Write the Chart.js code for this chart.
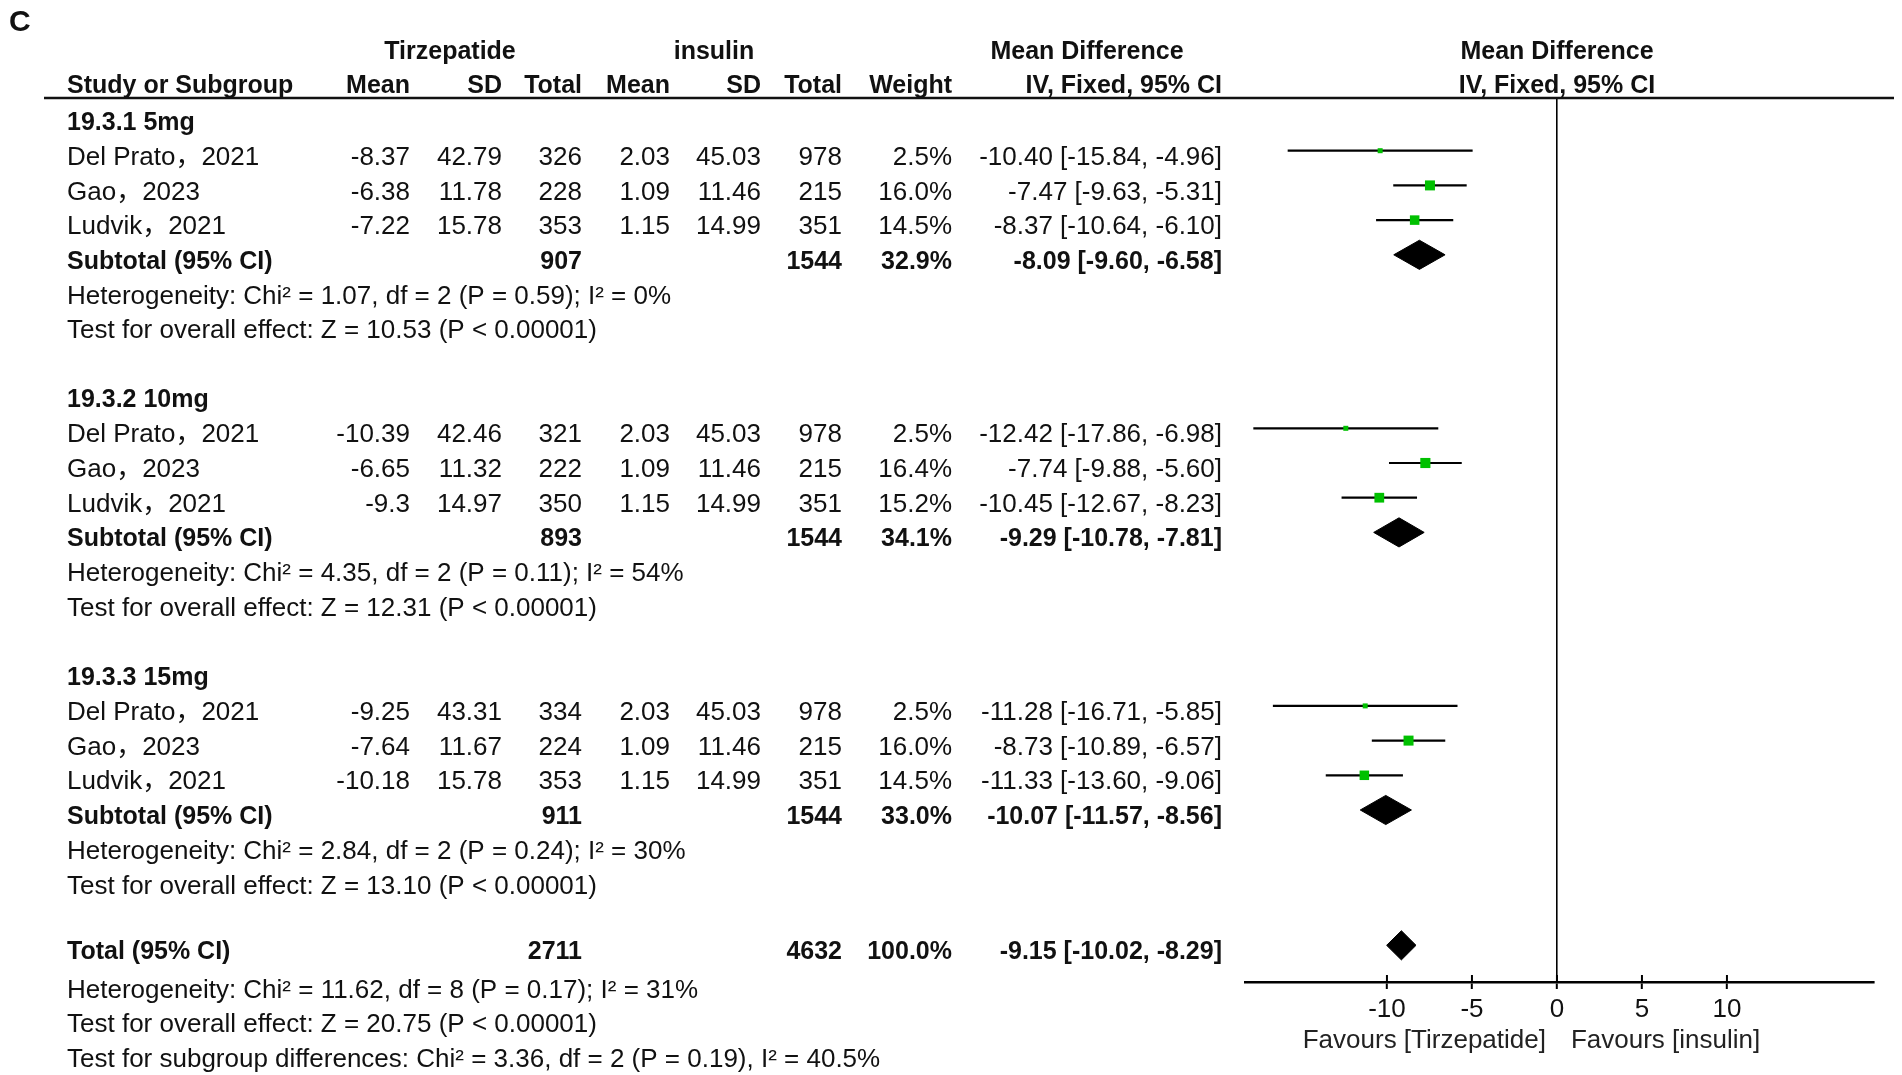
<!DOCTYPE html>
<html lang="en">
<head>
    <meta charset="UTF-8">
    <title>Tirzepatide vs insulin - forest plot</title>
    <script src="https://cdn.jsdelivr.net/npm/chart.js"></script>
    <style>
        body {
            margin: 0;
            padding: 0;
            background-color: #fff;
        }
        canvas {
            display: block;
        }
    </style>
</head>
<body>
    <canvas id="forest" width="1902" height="1075"></canvas>

    <script>
        // Study data (per dose group: 5mg, 10mg, 15mg)
        const groupLabels = ['19.3.1 5mg', '19.3.2 10mg', '19.3.3 15mg'];
        const studies = ['Del Prato，2021', 'Gao，2023', 'Ludvik，2021'];

        const tirzMean = [[-8.37, -6.38, -7.22], [-10.39, -6.65, -9.3], [-9.25, -7.64, -10.18]];
        const tirzSD = [[42.79, 11.78, 15.78], [42.46, 11.32, 14.97], [43.31, 11.67, 15.78]];
        const tirzN = [[326, 228, 353], [321, 222, 350], [334, 224, 353]];
        const insMean = [[2.03, 1.09, 1.15], [2.03, 1.09, 1.15], [2.03, 1.09, 1.15]];
        const insSD = [[45.03, 11.46, 14.99], [45.03, 11.46, 14.99], [45.03, 11.46, 14.99]];
        const insN = [[978, 215, 351], [978, 215, 351], [978, 215, 351]];
        const weights = [[2.5, 16.0, 14.5], [2.5, 16.4, 15.2], [2.5, 16.0, 14.5]];
        const md = [[-10.40, -7.47, -8.37], [-12.42, -7.74, -10.45], [-11.28, -8.73, -11.33]];
        const ciLow = [[-15.84, -9.63, -10.64], [-17.86, -9.88, -12.67], [-16.71, -10.89, -13.60]];
        const ciHigh = [[-4.96, -5.31, -6.10], [-6.98, -5.60, -8.23], [-5.85, -6.57, -9.06]];

        // Subtotals
        const subTirzN = [907, 893, 911];
        const subInsN = [1544, 1544, 1544];
        const subWeight = [32.9, 34.1, 33.0];
        const subMd = [-8.09, -9.29, -10.07];
        const subLow = [-9.60, -10.78, -11.57];
        const subHigh = [-6.58, -7.81, -8.56];
        const hetText = [
            'Heterogeneity: Chi² = 1.07, df = 2 (P = 0.59); I² = 0%',
            'Heterogeneity: Chi² = 4.35, df = 2 (P = 0.11); I² = 54%',
            'Heterogeneity: Chi² = 2.84, df = 2 (P = 0.24); I² = 30%'
        ];
        const effectText = [
            'Test for overall effect: Z = 10.53 (P < 0.00001)',
            'Test for overall effect: Z = 12.31 (P < 0.00001)',
            'Test for overall effect: Z = 13.10 (P < 0.00001)'
        ];

        // Overall
        const totalTirzN = 2711;
        const totalInsN = 4632;
        const totalWeight = 100.0;
        const totalMd = -9.15;
        const totalLow = -10.02;
        const totalHigh = -8.29;
        const totalText = [
            'Heterogeneity: Chi² = 11.62, df = 8 (P = 0.17); I² = 31%',
            'Test for overall effect: Z = 20.75 (P < 0.00001)',
            'Test for subgroup differences: Chi² = 3.36, df = 2 (P = 0.19), I² = 40.5%'
        ];

        const xTicks = [-10, -5, 0, 5, 10];

        // Row layout
        const GROUP_ROWS = 8;
        const TOTAL_ROW = 23.9;
        const DIAMOND_H = 0.42;
        const FONT = "'Liberation Sans', Arial, 'Noto Sans CJK SC', sans-serif";

        const studyRow = (g, i) => g * GROUP_ROWS + 1 + i;
        const subRow = g => g * GROUP_ROWS + 4;

        // datasets: squares, CI lines, diamonds
        const squarePoints = [];
        const squareSizes = [];
        const datasets = [];
        groupLabels.forEach((label, g) => {
            studies.forEach((s, i) => {
                squarePoints.push({ x: md[g][i], y: studyRow(g, i) });
                squareSizes.push(weights[g][i]);
                datasets.push({
                    type: 'line',
                    data: [{ x: ciLow[g][i], y: studyRow(g, i) }, { x: ciHigh[g][i], y: studyRow(g, i) }],
                    borderColor: '#000',
                    borderWidth: 2.2,
                    pointRadius: 0,
                    fill: false,
                    order: 2
                });
            });
        });

        function diamond(lo, est, hi, row) {
            return {
                type: 'line',
                data: [
                    { x: lo, y: row },
                    { x: est, y: row - DIAMOND_H },
                    { x: hi, y: row },
                    { x: est, y: row + DIAMOND_H },
                    { x: lo, y: row }
                ],
                borderColor: '#000',
                borderWidth: 1,
                backgroundColor: '#000',
                pointRadius: 0,
                fill: 'shape',
                tension: 0,
                order: 1
            };
        }
        groupLabels.forEach((label, g) => {
            datasets.push(diamond(subLow[g], subMd[g], subHigh[g], subRow(g)));
        });
        datasets.push(diamond(totalLow, totalMd, totalHigh, TOTAL_ROW));

        datasets.unshift({
            type: 'scatter',
            data: squarePoints,
            pointStyle: 'rect',
            backgroundColor: '#00c000',
            borderWidth: 0,
            pointRadius: ctx => Math.max(5, 2.5 * Math.sqrt(squareSizes[ctx.dataIndex])) / Math.SQRT2,
            order: 0
        });

        // table text, header line and favours labels
        const tablePlugin = {
            id: 'forestTable',
            afterDraw(chart) {
                const ctx = chart.ctx;
                const yScale = chart.scales.y;
                const xScale = chart.scales.x;
                const rowY = r => yScale.getPixelForValue(r) + 7;

                function txt(str, x, y, align, bold, size) {
                    ctx.font = (bold ? 'bold ' : '') + (size || (bold ? 25 : 26)) + 'px ' + FONT;
                    ctx.textAlign = align;
                    ctx.textBaseline = 'middle';
                    ctx.fillStyle = '#111';
                    ctx.fillText(str, x, y);
                }
                const cols = { name: 67, tMean: 410, tSD: 502, tN: 582, iMean: 670, iSD: 761, iN: 842, w: 952, ci: 1222 };
                const ciStr = (e, lo, hi) => e.toFixed(2) + ' [' + lo.toFixed(2) + ', ' + hi.toFixed(2) + ']';

                ctx.save();
                txt('C', 9, 23, 'left', true, 30);

                // headers
                txt('Tirzepatide', 450, 52, 'center', true);
                txt('insulin', 714, 52, 'center', true);
                txt('Mean Difference', 1087, 52, 'center', true);
                txt('Mean Difference', 1557, 52, 'center', true);
                txt('Study or Subgroup', cols.name, 86, 'left', true);
                txt('Mean', cols.tMean, 86, 'right', true);
                txt('SD', cols.tSD, 86, 'right', true);
                txt('Total', cols.tN, 86, 'right', true);
                txt('Mean', cols.iMean, 86, 'right', true);
                txt('SD', cols.iSD, 86, 'right', true);
                txt('Total', cols.iN, 86, 'right', true);
                txt('Weight', cols.w, 86, 'right', true);
                txt('IV, Fixed, 95% CI', cols.ci, 86, 'right', true);
                txt('IV, Fixed, 95% CI', 1557, 86, 'center', true);

                ctx.strokeStyle = '#111';
                ctx.lineWidth = 2.5;
                ctx.beginPath();
                ctx.moveTo(44, chart.chartArea.top);
                ctx.lineTo(1894, chart.chartArea.top);
                ctx.stroke();

                groupLabels.forEach((label, g) => {
                    txt(label, cols.name, rowY(g * GROUP_ROWS), 'left', true);
                    studies.forEach((s, i) => {
                        const y = rowY(studyRow(g, i));
                        txt(s, cols.name, y, 'left', false);
                        txt(String(tirzMean[g][i]), cols.tMean, y, 'right', false);
                        txt(tirzSD[g][i].toFixed(2), cols.tSD, y, 'right', false);
                        txt(String(tirzN[g][i]), cols.tN, y, 'right', false);
                        txt(insMean[g][i].toFixed(2), cols.iMean, y, 'right', false);
                        txt(insSD[g][i].toFixed(2), cols.iSD, y, 'right', false);
                        txt(String(insN[g][i]), cols.iN, y, 'right', false);
                        txt(weights[g][i].toFixed(1) + '%', cols.w, y, 'right', false);
                        txt(ciStr(md[g][i], ciLow[g][i], ciHigh[g][i]), cols.ci, y, 'right', false);
                    });
                    const ys = rowY(subRow(g));
                    txt('Subtotal (95% CI)', cols.name, ys, 'left', true);
                    txt(String(subTirzN[g]), cols.tN, ys, 'right', true);
                    txt(String(subInsN[g]), cols.iN, ys, 'right', true);
                    txt(subWeight[g].toFixed(1) + '%', cols.w, ys, 'right', true);
                    txt(ciStr(subMd[g], subLow[g], subHigh[g]), cols.ci, ys, 'right', true);
                    txt(hetText[g], cols.name, rowY(subRow(g) + 1), 'left', false);
                    txt(effectText[g], cols.name, rowY(subRow(g) + 2), 'left', false);
                });

                const yt = rowY(TOTAL_ROW);
                txt('Total (95% CI)', cols.name, yt, 'left', true);
                txt(String(totalTirzN), cols.tN, yt, 'right', true);
                txt(String(totalInsN), cols.iN, yt, 'right', true);
                txt(totalWeight.toFixed(1) + '%', cols.w, yt, 'right', true);
                txt(ciStr(totalMd, totalLow, totalHigh), cols.ci, yt, 'right', true);
                totalText.forEach((t, k) => txt(t, cols.name, rowY(25 + k), 'left', false));

                // upper half of the axis ticks
                const bottom = chart.chartArea.bottom;
                ctx.strokeStyle = '#000';
                ctx.lineWidth = 2;
                xScale.ticks.forEach(t => {
                    const px = xScale.getPixelForValue(t.value);
                    ctx.beginPath();
                    ctx.moveTo(px, bottom - 7);
                    ctx.lineTo(px, bottom);
                    ctx.stroke();
                });

                const zero = xScale.getPixelForValue(0);
                ctx.font = '26px ' + FONT;
                ctx.fillStyle = '#222';
                ctx.textBaseline = 'middle';
                ctx.textAlign = 'right';
                ctx.fillText('Favours [Tirzepatide]', zero - 11, 1041);
                ctx.textAlign = 'left';
                ctx.fillText('Favours [insulin]', zero + 14, 1041);
                ctx.restore();
            }
        };

        const forestChart = new Chart(document.getElementById('forest').getContext('2d'), {
            type: 'scatter',
            data: { datasets: datasets },
            options: {
                responsive: false,
                animation: false,
                devicePixelRatio: 1,
                layout: {
                    padding: { left: 1245, right: 28, top: 98, bottom: 0 }
                },
                plugins: {
                    legend: { display: false },
                    tooltip: { enabled: false }
                },
                scales: {
                    x: {
                        type: 'linear',
                        min: -18.35,
                        max: 18.65,
                        afterFit: scale => { scale.height = 93; },
                        afterBuildTicks: scale => { scale.ticks = xTicks.map(v => ({ value: v })); },
                        grid: {
                            color: c => (c.tick && c.tick.value === 0) ? '#000' : 'rgba(0,0,0,0)',
                            lineWidth: 1.6,
                            tickColor: '#000',
                            tickLength: 7,
                            tickWidth: 2
                        },
                        border: { color: '#000', width: 2.5 },
                        ticks: {
                            font: { family: FONT, size: 26 },
                            color: '#111',
                            padding: 5,
                            maxRotation: 0
                        }
                    },
                    y: {
                        type: 'linear',
                        display: false,
                        reverse: true,
                        min: -0.519,
                        max: 24.957
                    }
                }
            },
            plugins: [tablePlugin]
        });
    </script>
</body>
</html>
